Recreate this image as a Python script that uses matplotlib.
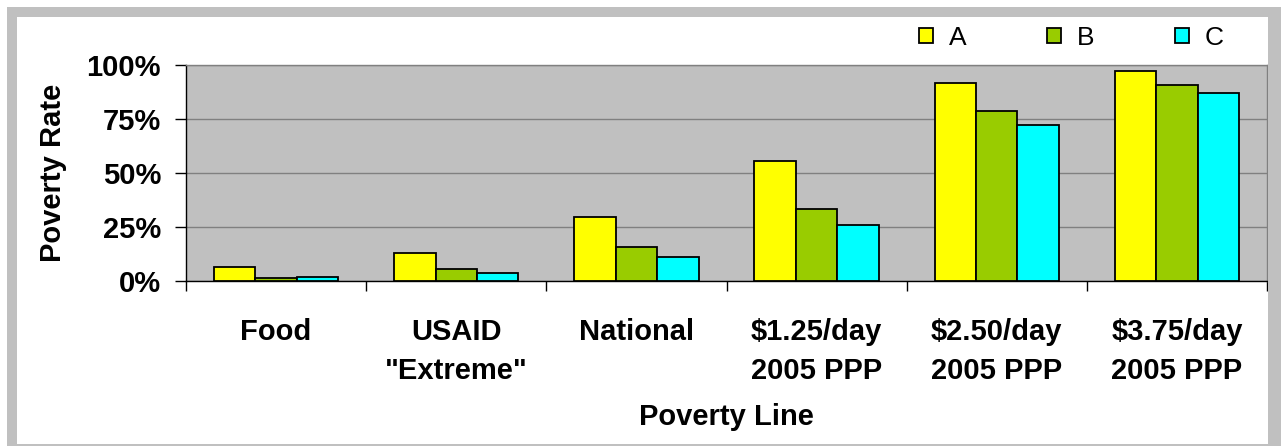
import numpy as np
import matplotlib
matplotlib.use("Agg")
from matplotlib import pyplot as plt
from matplotlib.patches import Rectangle

# poverty lines and rates (%)
categories = ['Food', 'USAID\n"Extreme"', 'National',
              '\\$1.25/day\n2005 PPP', '\\$2.50/day\n2005 PPP', '\\$3.75/day\n2005 PPP']
series_names = ['A', 'B', 'C']
rate_a = [6.5, 13.1, 29.8, 55.6, 91.5, 97.1]
rate_b = [1.6, 5.4, 15.9, 33.3, 78.7, 90.7]
rate_c = [1.8, 3.9, 11.1, 25.9, 72.1, 86.9]
yticks = [0, 25, 50, 75, 100]
ytick_labels = ['0%', '25%', '50%', '75%', '100%']

colors = ['#FFFF00', '#99CC00', '#00FFFF']

plt.rcParams['font.family'] = ['Liberation Sans', 'DejaVu Sans']

W, H = 1281, 446
fig = plt.figure(figsize=(W / 100, H / 100), dpi=100)

# outer gray frame
fc = '#C0C0C0'
for (x0, y0, w, h) in [(7, 7, 10, 439), (7, 7, 1274, 10), (1268, 7, 13, 439), (7, 444, 1274, 2)]:
    fig.patches.append(Rectangle((x0 / W, 1 - (y0 + h) / H), w / W, h / H,
                                 transform=fig.transFigure, facecolor=fc, edgecolor='none'))

ax = fig.add_axes([186 / W, 1 - 281 / H, (1267 - 186) / W, (281 - 65) / H])
ax.set_facecolor('#C0C0C0')

x = np.arange(len(categories)) + 0.5
bw = 0.23
bars = []
for i, vals in enumerate([rate_a, rate_b, rate_c]):
    b = ax.bar(x + (i - 1) * bw, vals, width=bw, color=colors[i],
               edgecolor='black', linewidth=1.3, label=series_names[i], zorder=3)
    bars.append(b)

ax.set_xlim(0, len(categories))
ax.set_ylim(0, 100)
ax.set_yticks(yticks)
ax.set_yticklabels(ytick_labels, fontsize=21, fontweight='bold')
ax.yaxis.grid(True, color='#808080', linewidth=1, zorder=0)
ax.set_axisbelow(True)

ax.set_xticks(np.arange(len(categories) + 1))
ax.set_xticklabels([])
ax.set_xticks(x, minor=True)
ax.set_xticklabels(categories, minor=True, fontsize=21, fontweight='bold', linespacing=1.5)
ax.tick_params(axis='x', which='minor', length=0, pad=26.5)
ax.tick_params(axis='x', which='major', length=7, direction='out', width=1)
ax.tick_params(axis='y', length=8, direction='out', width=1, pad=10)

for s in ['top', 'right']:
    ax.spines[s].set_color('#808080')
    ax.spines[s].set_linewidth(1)
for s in ['left', 'bottom']:
    ax.spines[s].set_color('black')
    ax.spines[s].set_linewidth(1)

ax.set_ylabel('Poverty Rate', fontsize=21, fontweight='bold', labelpad=14)
ax.set_xlabel('Poverty Line', fontsize=21, fontweight='bold', labelpad=13)

leg = fig.legend(handles=bars, labels=series_names, loc='center left',
                 bbox_to_anchor=(919 / W, 1 - 38 / H), ncol=3, frameon=False,
                 fontsize=19, handlelength=0.53, handleheight=0.53, handletextpad=0.6,
                 columnspacing=3.05, borderpad=0, borderaxespad=0)

fig.savefig('out.png', dpi=100)
